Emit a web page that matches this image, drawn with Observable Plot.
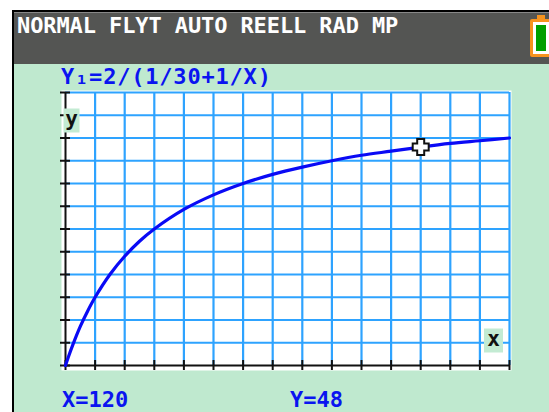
<!DOCTYPE html>
<html>
<head>
<meta charset="utf-8">
<script src="https://cdn.jsdelivr.net/npm/d3@7"></script>
<script src="https://cdn.jsdelivr.net/npm/@observablehq/plot@0.6"></script>
<style>
  html, body { margin: 0; padding: 0; background: #ffffff; }
  #page { position: relative; width: 549px; height: 412px; overflow: hidden; background: #ffffff;
          font-family: "DejaVu Sans Mono", monospace; font-weight: bold; }
  #screen { position: absolute; left: 12px; top: 10px; width: 545px; height: 410px;
            border-left: 2px solid #000; border-top: 2px solid #000; background: #bfe9cf; }
  #header { position: absolute; left: 0; top: 0; width: 100%; height: 51px; background: #545553;
            border-top: 1px solid #888; }
  .t { position: absolute; white-space: pre; line-height: 22px; }
  #status { left: 3px; top: 2px; color: #ffffff; font-size: 22px; letter-spacing: -0.1px; }
  #battery { position: absolute; left: 516px; top: 6px; width: 16px; height: 32px;
             border: 3px solid #f7931e; background: #ffffff; border-radius: 2px; }
  #battery::before { content: ""; position: absolute; left: 4px; top: -7px; width: 8px; height: 4px; background: #f7931e; }
  #battery .lvl { position: absolute; left: 3px; top: 3px; width: 10px; height: 26px; background: #00a000; }
  #plotwrap { position: absolute; left: 0; top: 0; }
  .blue { color: #0a14f0; font-size: 22px; }
</style>
</head>
<body>
<div id="page">
  <div id="screen">
    <div id="header">
      <div class="t" id="status">NORMAL FLYT AUTO REELL RAD MP</div>
      <div id="battery"><div class="lvl"></div></div>
    </div>
  </div>
  <div id="plotwrap"></div>
  <div class="t blue" id="title" style="left:61px; top:66px; letter-spacing:0.8px;">Y₁=2/(1/30+1/X)</div>
  <div class="t blue" id="xread" style="left:62px; top:389px;">X=120</div>
  <div class="t blue" id="yread" style="left:290px; top:389px;">Y=48</div>
</div>
<script>
// Window settings
const xTicks = [0,10,20,30,40,50,60,70,80,90,100,110,120,130,140,150];
const yTicks = [0,5,10,15,20,25,30,35,40,45,50,55,60];

// Curve points
const curveX = [0, 1, 2.5, 5, 7.5, 10, 15, 20, 25, 30, 40, 50, 60, 70, 80, 90, 100, 110, 120, 130, 140, 150];
const curveY = [0, 1.94, 4.6, 8.6, 12, 15, 20, 24, 27.3, 30, 34.3, 37.5, 40, 42, 43.6, 45, 46.2, 47.1, 48, 48.8, 49.4, 50];

// Trace cursor
const cursorX = [120];
const cursorY = [48];

const curve = curveX.map((x, i) => ({x, y: curveY[i]}));
const cursor = cursorX.map((x, i) => ({x, y: cursorY[i]}));

const gridBlue = "#2ea3ff";
const lineBlue = "#0a0af5";

const boxSymbol = (w, h) => ({
  draw(ctx, size) { ctx.rect(-w / 2, -h / 2, w, h); }
});

// hollow plus-shaped trace cursor
const crossSymbol = (a, L) => ({
  draw(ctx, size) {
    const pts = [[-a,-L],[a,-L],[a,-a],[L,-a],[L,a],[a,a],[a,L],[-a,L],[-a,a],[-L,a],[-L,-a],[-a,-a]];
    ctx.moveTo(pts[0][0], pts[0][1]);
    for (let i = 1; i < pts.length; ++i) ctx.lineTo(pts[i][0], pts[i][1]);
    ctx.closePath();
  }
});

const labelText = {textAnchor: "middle", lineAnchor: "middle", fill: "#111", fontSize: 21, fontWeight: "bold", fontFamily: "DejaVu Sans Mono"};

const chart = Plot.plot({
  width: 549,
  height: 412,
  marginLeft: 65,
  marginRight: 40,
  marginTop: 92,
  marginBottom: 47,
  style: {background: "transparent", overflow: "visible"},
  x: {domain: [0, 150]},
  y: {domain: [0, 60]},
  marks: [
    Plot.frame({fill: "#ffffff", stroke: null, insetLeft: -4, insetBottom: -5, insetTop: -2, insetRight: -2}),
    Plot.gridX({ticks: xTicks.slice(1), stroke: gridBlue, strokeOpacity: 1, strokeWidth: 2.2}),
    Plot.gridY({ticks: yTicks.slice(1), stroke: gridBlue, strokeOpacity: 1, strokeWidth: 2.2}),
    Plot.ruleY([0], {stroke: "#111", strokeWidth: 2}),
    Plot.ruleX([0], {stroke: "#111", strokeWidth: 2}),
    Plot.axisX({ticks: xTicks, tickSize: 10, dy: -5, tickFormat: () => "", label: null, stroke: "#111", strokeWidth: 2}),
    Plot.axisY({ticks: yTicks, tickSize: 10, dx: 5, tickFormat: () => "", label: null, stroke: "#111", strokeWidth: 2}),
    Plot.line(curve, {x: "x", y: "y", stroke: lineBlue, strokeWidth: 3.2, curve: "catmull-rom"}),
    Plot.dot(["y"], {frameAnchor: "top-left", dx: 6, dy: 28, symbol: boxSymbol(16, 24), r: 10, fill: "#c3ebd3", stroke: null}),
    Plot.text(["y"], {frameAnchor: "top-left", dx: 6, dy: 27, text: d => d, ...labelText}),
    Plot.dot(["x"], {frameAnchor: "bottom-right", dx: -16, dy: -25, symbol: boxSymbol(19, 24), r: 10, fill: "#c3ebd3", stroke: null}),
    Plot.text(["x"], {frameAnchor: "bottom-right", dx: -16, dy: -26, text: d => d, ...labelText}),
    Plot.dot(cursor, {x: "x", y: "y", symbol: crossSymbol(3.5, 8), r: 8, stroke: "#111", strokeWidth: 2, fill: "#ffffff"})
  ]
});
document.getElementById("plotwrap").appendChild(chart);
</script>
</body>
</html>
